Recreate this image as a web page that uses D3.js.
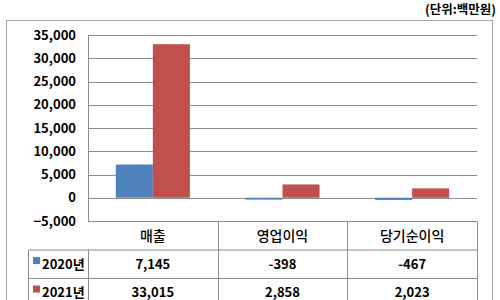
<!DOCTYPE html>
<html>
<head>
<meta charset="utf-8">
<script src="https://cdn.jsdelivr.net/npm/d3@7"></script>
<style>
  html, body { margin: 0; padding: 0; background: #fff; }
  svg { display: block; font-family: "Noto Sans CJK KR", "Noto Sans", sans-serif; }
  .grid line { stroke: #8c8c8c; stroke-width: 1; }
  .tbl { stroke: #8c8c8c; stroke-width: 1; }
  .ytick { font-size: 13px; font-weight: bold; fill: #000; }
  .cat { font-size: 14px; font-weight: 500; fill: #000; }
  .val { font-size: 13px; font-weight: bold; fill: #000; }
  .leg { font-size: 13px; font-weight: bold; fill: #000; }
</style>
</head>
<body>
<svg id="chart" width="500" height="300"></svg>
<script>
// chart data
const categories = ["매출", "영업이익", "당기순이익"];
const seriesNames = ["2020년", "2021년"];
const values2020 = [7145, -398, -467];
const values2021 = [33015, 2858, 2023];
const valueLabels2020 = ["7,145", "-398", "-467"];
const valueLabels2021 = ["33,015", "2,858", "2,023"];
const yTicks = [-5000, 0, 5000, 10000, 15000, 20000, 25000, 30000, 35000];
const unitLabel = "(단위:백만원)";

const colors = ["#4f81bd", "#c0504d"];
const seriesValues = [values2020, values2021];
const seriesLabels = [valueLabels2020, valueLabels2021];

const svg = d3.select("#chart");

const plot = { left: 88, right: 477, top: 35, bottom: 221 };
const rowH = 28.5;

// outer frame
svg.append("rect")
  .attr("x", 6.5).attr("y", 20.5)
  .attr("width", 486).attr("height", 300)
  .attr("fill", "none")
  .attr("stroke", "#a6a6a6")
  .attr("stroke-width", 1);

svg.append("text")
  .attr("x", 496).attr("y", 14)
  .attr("text-anchor", "end")
  .attr("font-size", 12.5)
  .attr("font-weight", "bold")
  .text(unitLabel);

const x0 = d3.scaleBand().domain(categories).range([plot.left, plot.right]);
const x1 = d3.scaleBand().domain(seriesNames).range([0, x0.bandwidth()]).paddingOuter(0.75);
const y = d3.scaleLinear().domain([-5000, 35000]).range([plot.bottom, plot.top]);

// gridlines
svg.append("g")
  .attr("class", "grid")
  .selectAll("line")
  .data(yTicks.filter((d) => d > -5000))
  .join("line")
  .attr("x1", plot.left).attr("x2", plot.right)
  .attr("y1", (d) => Math.round(y(d)) + 0.5)
  .attr("y2", (d) => Math.round(y(d)) + 0.5);

// y axis line
svg.append("line")
  .attr("class", "tbl")
  .attr("x1", plot.left + 0.5).attr("x2", plot.left + 0.5)
  .attr("y1", Math.round(y(35000)) + 0.5).attr("y2", plot.bottom);

// y tick labels
svg.append("g")
  .selectAll("text")
  .data(yTicks)
  .join("text")
  .attr("class", "ytick")
  .attr("x", 76)
  .attr("y", (d) => y(d))
  .attr("dy", "0.36em")
  .attr("text-anchor", "end")
  .text((d) => d3.format(",")(d));

// bars
seriesNames.forEach((name, s) => {
  svg.append("g")
    .selectAll("rect")
    .data(categories)
    .join("rect")
    .attr("x", (c) => x0(c) + x1(name))
    .attr("width", x1.bandwidth())
    .attr("y", (c, i) => y(Math.max(0, seriesValues[s][i])))
    .attr("height", (c, i) => Math.abs(y(seriesValues[s][i]) - y(0)))
    .attr("fill", colors[s]);
});

// data table
const tTop = plot.bottom + 0.5;
const r1 = tTop + rowH;
const r2 = r1 + rowH;
const r3 = r2 + rowH;
const legLeft = 28.5;

const tbl = svg.append("g");
tbl.append("line").attr("class", "tbl")
  .attr("x1", plot.left).attr("x2", plot.right).attr("y1", tTop).attr("y2", tTop);
[r1, r2, r3].forEach((ry) => {
  tbl.append("line").attr("class", "tbl")
    .attr("x1", legLeft).attr("x2", plot.right).attr("y1", ry).attr("y2", ry);
});
tbl.append("line").attr("class", "tbl")
  .attr("x1", legLeft).attr("x2", legLeft).attr("y1", r1).attr("y2", 300);
const colEdges = categories.map((c) => x0(c)).concat([plot.right]);
colEdges.forEach((cx, i) => {
  tbl.append("line").attr("class", "tbl")
    .attr("x1", Math.round(cx) + 0.5).attr("x2", Math.round(cx) + 0.5)
    .attr("y1", i === 0 ? r1 : tTop).attr("y2", 300);
});

tbl.selectAll(".cat")
  .data(categories)
  .join("text")
  .attr("class", "cat")
  .attr("x", (c) => x0(c) + x0.bandwidth() / 2)
  .attr("y", tTop + rowH / 2)
  .attr("dy", "0.36em")
  .attr("text-anchor", "middle")
  .text((c) => c);

seriesNames.forEach((name, s) => {
  const rowTop = r1 + s * rowH;
  tbl.append("rect")
    .attr("x", 33).attr("y", rowTop + 7)
    .attr("width", 7).attr("height", 7)
    .attr("fill", colors[s]);
  tbl.append("text")
    .attr("class", "leg")
    .attr("x", 42).attr("y", rowTop + rowH / 2)
    .attr("dy", "0.36em")
    .text(name);
  tbl.append("g")
    .selectAll("text")
    .data(categories)
    .join("text")
    .attr("class", "val")
    .attr("x", (c) => x0(c) + x0.bandwidth() / 2)
    .attr("y", rowTop + rowH / 2)
    .attr("dy", "0.36em")
    .attr("text-anchor", "middle")
    .text((c, i) => seriesLabels[s][i]);
});
</script>
</body>
</html>
